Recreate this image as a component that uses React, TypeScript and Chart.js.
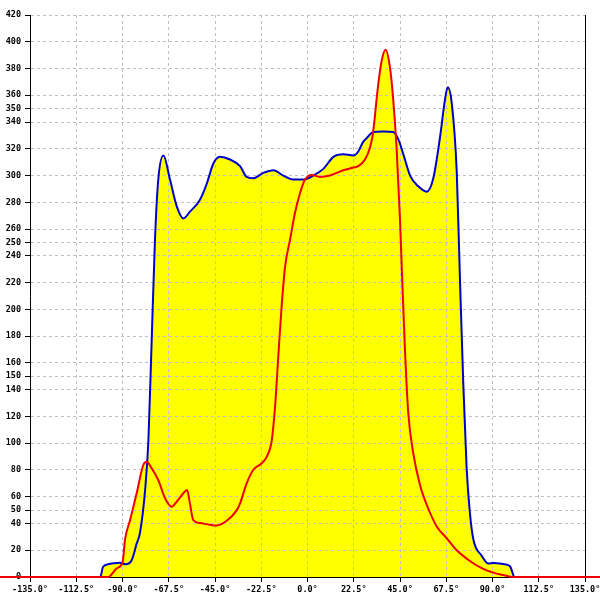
import { useEffect, useRef } from "react";
import { Chart, registerables } from "chart.js";

Chart.register(...registerables);

const xTicks = [-135, -112.5, -90, -67.5, -45, -22.5, 0, 22.5, 45, 67.5, 90, 112.5, 135];
const yTicks = [0, 20, 40, 50, 60, 80, 100, 120, 140, 150, 160, 180, 200, 220, 240, 250, 260, 280, 300, 320, 340, 350, 360, 380, 400, 420];

const blueAngles = [
  -135, -100.8, -99.5, -97, -94.5, -91.3, -88.5, -85.5, -83.1, -81.5, -79, -77.4, -75.8, -74.2, -72.6,
  -70.1, -66.9, -63.6, -60.4, -57.2, -52.3, -49, -45.8, -42.6, -37.7, -32.8, -29.6, -26.4, -21.5,
  -16.6, -11.8, -6.9, -2, 2.8, 7.7, 12.6, 17.4, 22.3, 24.7, 27, 28.8, 32, 36.9, 41.7, 44.2, 46.6,
  49.9, 53.9, 58, 61.2, 64.5, 66.9, 68.2, 70.1, 72.6, 74.2, 75.8, 77.4, 79, 80.7, 84.7, 88, 90.4,
  95.2, 98.5, 100.1, 100.5, 135,
];
const blueValues = [
  0, 0, 7.5, 9.5, 10.2, 10.7, 9.5, 12.7, 25, 33, 65, 102, 177, 252, 297,
  315, 297, 277, 268, 273, 282, 294, 309, 314, 312, 307, 299, 298, 302,
  304, 300, 297, 297, 300, 305, 314, 316, 315, 318, 325, 328, 332.5, 333, 332.5, 327, 316,
  300, 292, 288, 298, 329, 357, 366, 355, 303, 221, 144, 82, 48, 28, 16, 10, 10.5,
  9.7, 8, 1.5, 0, 0,
];

const redAngles = [
  -150, -96.9, -92.8, -89.9, -88.8, -86.3, -83.1, -79.9, -78.2, -75.8, -72.6, -69.3, -66.1, -63.6,
  -60.4, -58.6, -57.2, -55.6, -52.3, -47.4, -44.2, -39.3, -34.4, -32.8, -29.6, -26.4, -22.3, -19.8,
  -17.4, -15.8, -14.2, -12.6, -10.9, -8.5, -6.1, -3.6, -1.2, 2, 6.1, 10.9, 17.4, 22.3, 24.7, 28,
  30.4, 31.7, 34.4, 36.1, 38, 40.1, 41.7, 43.4, 45, 46.1, 47.4, 49, 51.5, 54.7, 58, 62.8, 67.7,
  72.6, 79, 85.5, 90.4, 95.2, 100, 150,
];
const redValues = [
  0, 0, 6.5, 11.5, 27.7, 42.6, 62.6, 83.7, 86.2, 81.2, 72.5, 58.8, 52.5, 56.3,
  62.6, 65, 55, 42.6, 40.3, 39, 38.5, 42, 50, 55, 70, 80, 85, 90,
  102, 127, 165, 202, 232, 252, 272, 287, 297, 300.5, 299, 300, 304, 306, 307, 312,
  321, 330, 368, 386, 394, 381, 357, 319, 267, 221, 170, 123, 92, 69, 54, 38, 29,
  20, 12, 6, 3.3, 1.5, 0, 0,
];

const tickFont = { family: "'DejaVu Sans Mono', monospace", size: 8.5, weight: "bold" as const };

export default function App() {
  const ref = useRef<HTMLCanvasElement>(null);
  useEffect(() => {
    document.body.style.margin = "0";
    const chart = new Chart(ref.current!, {
      type: "line",
      data: {
        datasets: [
          {
            label: "red",
            data: redAngles.map((x, i) => ({ x, y: redValues[i] })),
            borderColor: "#ee0000",
            borderWidth: 2,
            backgroundColor: "#ffff00",
            fill: "origin",
            pointRadius: 0,
            cubicInterpolationMode: "monotone",
            clip: false,
            order: 0,
          },
          {
            label: "blue",
            data: blueAngles.map((x, i) => ({ x, y: blueValues[i] })),
            borderColor: "#0000cc",
            borderWidth: 2,
            backgroundColor: "#ffff00",
            fill: "origin",
            pointRadius: 0,
            cubicInterpolationMode: "monotone",
            order: 1,
          },
        ],
      },
      options: {
        animation: false,
        responsive: false,
        layout: { autoPadding: false, padding: { top: 15, right: 15, left: 0, bottom: 0 } },
        plugins: {
          legend: { display: false },
          tooltip: { enabled: false },
          filler: { drawTime: "beforeDraw" },
        },
        scales: {
          x: {
            type: "linear",
            min: -135,
            max: 135,
            afterBuildTicks: (s: any) => {
              s.ticks = xTicks.map((v) => ({ value: v }));
            },
            afterFit: (s: any) => {
              s.height = 23;
              s.paddingLeft = 0;
              s.paddingRight = 0;
            },
            ticks: {
              callback: (v: any) => Number(v).toFixed(1) + "°",
              font: tickFont,
              color: "#000",
              padding: 3,
              maxRotation: 0,
              autoSkip: false,
            },
            grid: { color: "#c0c0c0", tickColor: "#000", tickLength: 5 },
            border: { dash: [3, 3], color: "#000", width: 1 },
          },
          y: {
            type: "linear",
            min: 0,
            max: 420,
            afterBuildTicks: (s: any) => {
              s.ticks = yTicks.map((v) => ({ value: v }));
            },
            afterFit: (s: any) => {
              s.width = 30;
              s.paddingTop = 0;
              s.paddingBottom = 0;
            },
            ticks: { font: tickFont, color: "#000", padding: 4, autoSkip: false },
            grid: { color: "#c0c0c0", tickColor: "#000", tickLength: 5 },
            border: { dash: [3, 3], color: "#000", width: 1 },
          },
          y2: {
            type: "linear",
            position: "right",
            min: 0,
            max: 420,
            ticks: { display: false, padding: 0 },
            grid: { display: false, drawTicks: false, tickLength: 0 },
            border: { display: true, color: "#000", width: 1 },
            afterFit: (s: any) => {
              s.width = 0;
            },
          },
        },
      },
    } as any);
    return () => chart.destroy();
  }, []);
  return <canvas ref={ref} width={600} height={600} style={{ display: "block" }} />;
}
